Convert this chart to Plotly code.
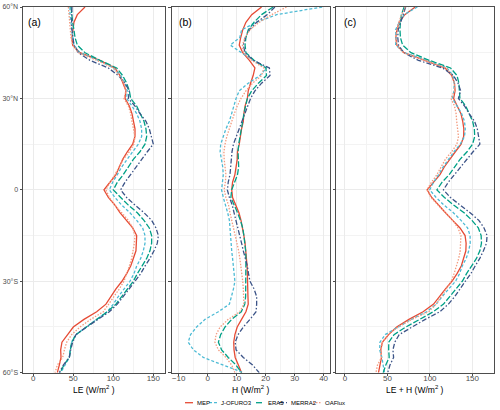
import plotly.graph_objects as go

LAT = [60, 57.5, 55, 52.5, 50, 47.5, 45, 42.5, 40, 37.5, 35, 32.5, 30, 27.5, 25, 22.5, 20, 17.5, 15, 12.5, 10, 7.5, 5, 2.5, 0,
       -2.5, -5, -7.5, -10, -12.5, -15, -17.5, -20, -22.5, -25, -27.5, -30, -32.5, -35, -37.5, -40, -42.5, -45, -47.5,
       -50, -52.5, -55, -57.5, -60]

SERIES = ["MEP", "J-OFURO3", "ERA5", "MERRA2", "OAFlux"]

# Panel (a): latent heat flux LE (W/m2)
LE_MEP = [64.6, 55.0, 50.8, 49.2, 48.3, 49.2, 58.3, 83.3, 102.0, 108.3, 112.5, 115.8, 114.6, 120.0, 123.3, 125.0, 127.1,
          127.1, 124.2, 117.5, 111.7, 107.5, 103.3, 95.8, 88.3, 93.8, 102.0, 108.3, 116.7, 124.2, 129.2, 129.2, 128.3,
          125.0, 121.7, 116.7, 110.8, 103.3, 96.7, 90.8, 79.2, 63.3, 50.0, 42.5, 35.8, 34.2, 34.6, 32.5, 30.0]
LE_JOFURO3 = [45.8, 45.8, 47.1, 47.9, 49.2, 50.8, 58.3, 81.3, 100.0, 109.2, 114.6, 117.5, 116.7, 123.3, 129.2, 133.3,
              135.4, 135.4, 131.3, 124.2, 116.7, 110.4, 105.0, 99.2, 95.0, 102.0, 110.4, 120.8, 129.2, 136.7, 139.6,
              139.6, 137.5, 134.2, 129.2, 125.8, 120.8, 113.3, 106.3, 100.0, 92.5, 79.2, 65.8, 53.3, 47.9, 45.8, 45.0,
              39.6, 34.2]
LE_ERA5 = [47.1, 47.9, 49.2, 50.8, 52.1, 55.0, 64.6, 83.3, 104.2, 111.7, 116.7, 120.0, 121.7, 129.2, 134.2, 138.3, 140.8,
           141.7, 139.6, 133.3, 125.0, 118.8, 112.5, 105.0, 100.0, 109.2, 118.8, 130.0, 138.3, 145.0, 147.9, 147.9,
           145.8, 141.7, 135.4, 130.0, 125.0, 117.5, 110.4, 103.3, 92.5, 79.2, 65.8, 53.3, 47.9, 46.7, 45.0, 38.3, 33.3]
LE_MERRA2 = [48.3, 47.9, 47.9, 48.3, 49.2, 50.8, 56.3, 70.8, 93.8, 106.3, 114.6, 120.0, 118.8, 127.1, 133.3, 140.8,
             145.0, 147.9, 150.0, 142.5, 135.4, 128.3, 121.7, 114.6, 109.2, 116.7, 127.1, 138.3, 147.9, 153.3, 156.3,
             155.0, 150.8, 145.8, 139.6, 134.2, 127.1, 120.0, 112.5, 105.0, 95.0, 80.0, 66.7, 53.3, 49.2, 46.7, 45.0,
             37.5, 32.5]
LE_OAFLUX = [43.8, 44.6, 45.8, 46.7, 47.1, 49.2, 56.3, 79.2, 100.0, 107.5, 113.3, 115.8, 113.3, 118.8, 121.7, 123.3,
             125.0, 127.1, 125.8, 120.0, 112.5, 107.5, 102.0, 95.8, 90.8, 95.0, 102.0, 110.4, 118.8, 124.2, 127.1,
             126.3, 125.0, 122.9, 120.0, 116.7, 113.3, 107.5, 100.8, 95.0, 87.5, 71.7, 58.3, 47.9, 41.7, 38.8, 36.7,
             30.0, 27.1]

# Panel (b): sensible heat flux H (W/m2)
H_MEP = [18.6, 15.2, 13.2, 12.1, 11.4, 10.9, 12.1, 14.4, 16.3, 15.7, 14.8, 14.0, 13.7, 12.9, 12.5, 12.3, 11.7, 11.4,
         10.9, 10.3, 10.2, 9.8, 9.4, 8.6, 8.3, 8.6, 9.8, 10.8, 11.5, 12.1, 12.5, 12.9, 13.2, 13.4, 13.6, 13.7, 13.7,
         13.8, 13.9, 14.0, 13.2, 11.7, 10.2, 9.4, 9.0, 9.1, 9.5, 10.6, 11.7]
H_JOFURO3 = [39.5, 23.8, 16.9, 11.7, 11.1, 7.8, 11.7, 15.7, 20.3, 18.0, 14.0, 10.9, 9.8, 9.1, 8.3, 7.5, 6.3, 5.4, 4.5,
             4.3, 4.8, 5.2, 5.4, 5.2, 4.8, 5.4, 6.2, 6.9, 7.5, 7.7, 7.8, 7.9, 8.3, 8.6, 8.9, 9.2, 9.4, 8.9, 8.3, 7.5,
             3.7, -0.9, -3.8, -5.9, -6.7, -4.9, -1.5, 5.4, 12.3]
H_ERA5 = [22.6, 18.6, 16.0, 14.0, 13.2, 12.9, 13.2, 16.0, 20.1, 20.3, 17.5, 15.2, 13.7, 13.0, 12.5, 12.1, 11.6, 11.1,
          10.7, 10.5, 10.5, 10.7, 10.3, 9.4, 8.3, 8.0, 9.2, 10.3, 11.3, 12.1, 12.5, 12.9, 13.1, 13.2, 13.2, 13.2, 13.2,
          13.2, 13.1, 12.8, 11.6, 8.3, 6.0, 4.5, 3.7, 4.8, 7.1, 9.8, 11.7]
H_MERRA2 = [23.2, 20.6, 16.9, 14.4, 13.0, 12.3, 12.9, 15.7, 21.3, 21.5, 18.6, 16.3, 14.8, 13.8, 12.9, 11.8, 10.9, 9.8,
            8.9, 8.4, 8.2, 7.9, 7.7, 7.1, 6.8, 7.5, 8.5, 9.1, 9.8, 10.5, 11.1, 11.7, 12.3, 13.0, 13.7, 14.1, 14.6,
            16.0, 16.9, 16.9, 16.7, 14.6, 12.3, 10.5, 9.5, 9.8, 12.3, 15.5, 17.8]
H_OAFLUX = [27.2, 22.1, 17.8, 14.6, 12.9, 12.0, 12.3, 15.2, 19.4, 18.6, 15.5, 13.2, 11.5, 10.2, 9.2, 8.3, 7.4, 6.6,
            6.0, 5.6, 5.7, 6.1, 6.3, 6.1, 5.7, 6.3, 7.2, 7.7, 8.2, 8.9, 9.5, 10.2, 10.7, 11.1, 11.5, 11.8, 12.1, 12.3,
            12.5, 12.5, 11.1, 7.1, 4.3, 2.9, 2.5, 3.7, 6.3, 8.3, 9.4]

# Panel (c): LE + H (W/m2)
T_MEP = [82.8, 70.5, 63.8, 61.1, 59.9, 61.0, 69.5, 93.0, 118.0, 125.8, 129.0, 129.7, 128.0, 132.2, 136.6, 138.7, 140.0,
         139.8, 136.8, 130.0, 123.2, 117.0, 111.9, 104.2, 96.8, 102.2, 110.9, 118.4, 126.9, 135.5, 141.5, 142.7, 142.4,
         139.9, 137.0, 132.0, 126.0, 118.4, 111.2, 104.4, 92.0, 75.4, 60.9, 51.4, 44.0, 42.2, 43.0, 41.7, 39.5]
T_JOFURO3 = [85.3, 69.6, 64.0, 59.6, 60.3, 59.7, 70.0, 97.0, 120.3, 127.2, 128.6, 128.4, 126.5, 132.4, 137.5, 140.8,
             141.7, 140.8, 135.8, 128.5, 121.5, 115.6, 110.4, 104.4, 99.8, 107.4, 116.6, 127.7, 136.7, 144.4, 147.4,
             147.5, 145.8, 142.8, 138.1, 135.0, 130.2, 122.2, 114.5, 107.5, 96.2, 78.3, 62.0, 47.4, 41.2, 40.9, 43.5,
             45.0, 46.5]
T_ERA5 = [69.7, 66.5, 65.2, 64.8, 65.3, 67.9, 77.8, 99.3, 124.3, 132.0, 134.2, 135.2, 135.4, 142.2, 146.7, 150.4, 152.4,
          152.8, 150.3, 143.8, 135.5, 129.5, 122.8, 114.4, 108.3, 117.2, 128.0, 140.3, 149.6, 157.1, 160.4, 160.8, 158.9,
          154.9, 148.6, 143.2, 138.2, 130.7, 123.5, 116.1, 104.1, 87.5, 71.8, 57.8, 51.6, 51.5, 52.1, 48.1, 45.0]
T_MERRA2 = [71.5, 68.5, 64.8, 62.7, 62.2, 63.1, 69.2, 86.5, 115.0, 127.8, 133.2, 136.3, 133.6, 140.9, 146.2, 152.6,
            155.9, 157.7, 158.9, 150.9, 143.6, 136.2, 129.4, 121.7, 116.0, 124.2, 135.6, 147.4, 157.7, 163.8, 167.4,
            166.7, 163.1, 158.8, 153.3, 148.3, 141.7, 136.0, 129.4, 121.9, 111.7, 94.6, 79.0, 63.8, 58.7, 56.5, 57.3,
            53.0, 50.3]
T_OAFLUX = [71.0, 66.7, 63.6, 61.3, 60.0, 61.2, 68.6, 94.4, 119.4, 126.1, 128.8, 129.0, 124.8, 129.0, 130.9, 131.6,
            132.4, 133.7, 131.8, 125.6, 118.2, 113.6, 108.3, 101.9, 96.5, 101.3, 109.2, 118.1, 127.0, 133.1, 136.6,
            136.5, 135.7, 134.0, 131.5, 128.5, 125.4, 119.8, 113.3, 107.5, 98.6, 78.8, 62.6, 50.8, 44.2, 42.5, 43.0,
            38.3, 36.5]

LAT_TICKS = [-60, -30, 0, 30, 60]
LAT_LABELS = ["60°S", "30°S", "0", "30°N", "60°N"]

COLORS = {"MEP": "#E64B35", "J-OFURO3": "#4DBBD5", "ERA5": "#00A087", "MERRA2": "#3C5488", "OAFlux": "#F39B7F"}
DASHES = {"MEP": "solid", "J-OFURO3": "3px,2px", "ERA5": "6px,2px", "MERRA2": "5px,2px,1.5px,2px",
          "OAFlux": "1.5px,1.5px"}

panels = [
    ("x", "y", [LE_MEP, LE_JOFURO3, LE_ERA5, LE_MERRA2, LE_OAFLUX]),
    ("x2", "y2", [H_MEP, H_JOFURO3, H_ERA5, H_MERRA2, H_OAFLUX]),
    ("x3", "y3", [T_MEP, T_JOFURO3, T_ERA5, T_MERRA2, T_OAFLUX]),
]

fig = go.Figure()
for xa, ya, data in panels:
    for name, vals in zip(SERIES, data):
        fig.add_trace(go.Scatter(x=vals, y=LAT, mode="lines", name=name, xaxis=xa, yaxis=ya, showlegend=False,
                                 hoverinfo="skip",
                                 line=dict(color=COLORS[name], width=1.3, dash=DASHES[name])))

W, H = 500, 410
FONT = "Liberation Sans, Arial, sans-serif"
BORDER = "#4D4D4D"
GRID = "#EBEBEB"
MINOR = "#F3F3F3"
ydom = [1 - 372.7 / H, 1 - 7 / H]

def xax(dom, rng, tickvals, minor_dt, anchor):
    return dict(domain=dom, range=rng, anchor=anchor, tickvals=tickvals, showgrid=True, gridcolor=GRID,
                gridwidth=0.8, automargin=False, ticklabelstandoff=-5,
                minor=dict(dtick=minor_dt, tick0=0, showgrid=True, gridcolor=MINOR, gridwidth=0.5, ticks=""),
                zeroline=False, showline=True, mirror=True, linecolor=BORDER, linewidth=1,
                ticks="outside", ticklen=2.5, tickwidth=1, tickcolor=BORDER,
                tickfont=dict(size=8, color="#4D4D4D", family=FONT))

def yax(anchor, labels):
    return dict(domain=ydom, range=[-60, 60], anchor=anchor, tickvals=LAT_TICKS, ticktext=LAT_LABELS,
                showticklabels=labels, showgrid=True, gridcolor=GRID, gridwidth=0.8, automargin=False,
                minor=dict(dtick=15, tick0=-60, showgrid=True, gridcolor=MINOR, gridwidth=0.5, ticks=""),
                zeroline=False, showline=True, mirror=True, linecolor=BORDER, linewidth=1,
                ticks="outside", ticklen=2.5, tickwidth=1, tickcolor=BORDER,
                tickfont=dict(size=7, color="#4D4D4D", family=FONT))

XDOMS = [[23 / W, 165 / W], [171.7 / W, 330 / W], [336.3 / W, 494.3 / W]]
xa1 = xax(XDOMS[0], [-12.9, 164.6], [0, 50, 100, 150], 25, "y")
xa2 = xax(XDOMS[1], [-12.4, 42.2], [-10, 0, 10, 20, 30, 40], 5, "y2")
xa3 = xax(XDOMS[2], [-10.2, 175.9], [0, 50, 100, 150], 25, "y3")

annotations = []
# x-axis titles
for dom, ttl in zip(XDOMS, ["LE (W/m<sup>2</sup> )", "H (W/m<sup>2</sup> )", "LE + H (W/m<sup>2</sup> )"]):
    annotations.append(dict(text=ttl, x=(dom[0] + dom[1]) / 2, y=1 - 389 / H, xref="paper", yref="paper",
                            xanchor="center", yanchor="middle", showarrow=False,
                            font=dict(size=8.5, color="#000", family=FONT)))
# panel labels
for lbl, px in [("(a)", 26), ("(b)", 177), ("(c)", 342)]:
    annotations.append(dict(text=lbl, x=px / W, y=1 - 21.5 / H, xref="paper", yref="paper", xanchor="left",
                            yanchor="middle", showarrow=False, font=dict(size=10.5, color="#000", family=FONT)))

# compact legend
shapes = []
leg_y = 1 - 402.7 / H
leg_x = [185, 209, 256, 279, 313]
for name, lx in zip(SERIES, leg_x):
    shapes.append(dict(type="line", xref="paper", yref="paper", x0=lx / W, x1=(lx + 8) / W, y0=leg_y, y1=leg_y,
                       line=dict(color=COLORS[name], width=1.3, dash="solid" if name == "MEP" else DASHES[name])))
    annotations.append(dict(text=name, x=(lx + 9.5) / W, y=leg_y, xref="paper", yref="paper", xanchor="left",
                            yanchor="middle", showarrow=False, font=dict(size=6, color="#000", family=FONT)))

fig.update_layout(
    width=W, height=H, autosize=False, margin=dict(l=0, r=0, t=0, b=0, autoexpand=False),
    paper_bgcolor="white", plot_bgcolor="white", hovermode=False,
    xaxis=xa1, xaxis2=xa2, xaxis3=xa3,
    yaxis=yax("x", True), yaxis2=yax("x2", False), yaxis3=yax("x3", False),
    annotations=annotations, shapes=shapes, font=dict(family=FONT),
)

fig.write_html("out.html", config={"displayModeBar": False},
               post_script="document.body.style.margin='0';document.body.style.padding='0';"
                           "document.body.style.overflow='hidden';")
